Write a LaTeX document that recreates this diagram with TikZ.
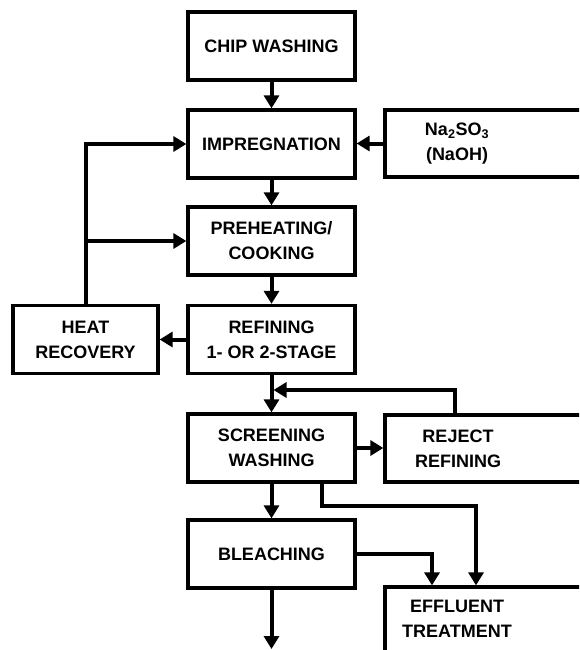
\documentclass[tikz,border=0pt]{standalone}
\usepackage{fontspec}
\setmainfont{Liberation Sans}
\usetikzlibrary{calc}
\usetikzlibrary{arrows.meta}

\begin{document}
\begin{tikzpicture}[x=1pt, y=-1pt,
    every node/.style={font=\bfseries\fontsize{18}{25}\selectfont},
    stagebox/.style={draw, line width=3.3pt, minimum width=167pt, minimum height=68pt, align=center, inner sep=0pt},
    sidebox/.style={draw, line width=3.3pt, minimum width=215pt, minimum height=67pt},
    boxtext/.style={align=center, inner sep=0pt},
    flow/.style={line width=4pt, -{Triangle[width=15pt, length=13pt]}}]
    \useasboundingbox (0,0) rectangle (579,650);
    \clip (0,0) rectangle (579,650);

    \foreach \name/\ypos/\txt in {chipwash/46/{CHIP WASHING}, impreg/144/{IMPREGNATION},
        preheat/241/{PREHEATING/\\COOKING}, refining/339.5/{REFINING\\1- OR 2-STAGE},
        screening/448/{SCREENING\\WASHING}, bleaching/554/{BLEACHING}}{
        \node[stagebox] (\name) at (271.5, \ypos) {\txt};
    }
    \node[stagebox, minimum width=145pt] (heatrec) at (85.5, 339.5) {HEAT\\RECOVERY};

    \node[sidebox] (sulfite) at (492.5, 143.5) {};
    \node[boxtext] (sulfitetxt) at (457, 143.5) {Na\textsubscript{2}SO\textsubscript{3}\\(NaOH)};
    \node[sidebox] (reject) at (492.5, 448.5) {};
    \node[boxtext] (rejecttxt) at (458, 448.5) {REJECT\\REFINING};
    \node[sidebox, minimum height=70pt] (effluent) at (492.5, 622) {};
    \node[boxtext] (effluenttxt) at (457, 618.5) {EFFLUENT\\TREATMENT};

    \foreach \a/\b in {chipwash/impreg, impreg/preheat, preheat/refining, refining/screening, screening/bleaching}{
        \draw[flow] (\a) -- (\b);
    }
    \draw[flow] (sulfite.west) -- (sulfite.west -| impreg.east);
    \draw[flow] (refining.west) -- (heatrec.east);
    \draw[flow] (heatrec.north) |- (impreg.west);
    \draw[flow] (heatrec.north |- preheat.west) -- (preheat.west);

    \coordinate (merge) at (271.5, 390);
    \draw[flow] ([xshift=-37.5pt]reject.north) |- ([xshift=2pt]merge);
    \draw[flow] (screening.east) -- (screening.east -| reject.west);
    \draw[flow] ([xshift=50pt]screening.south) -- ++(0,22) -| ([xshift=-16.5pt]effluent.north);
    \draw[flow] (bleaching.east) -| ([xshift=-60.5pt]effluent.north);
    \coordinate (pulpout) at (271.5, 649);
    \draw[flow] (bleaching) -- (pulpout);
\end{tikzpicture}
\end{document}
